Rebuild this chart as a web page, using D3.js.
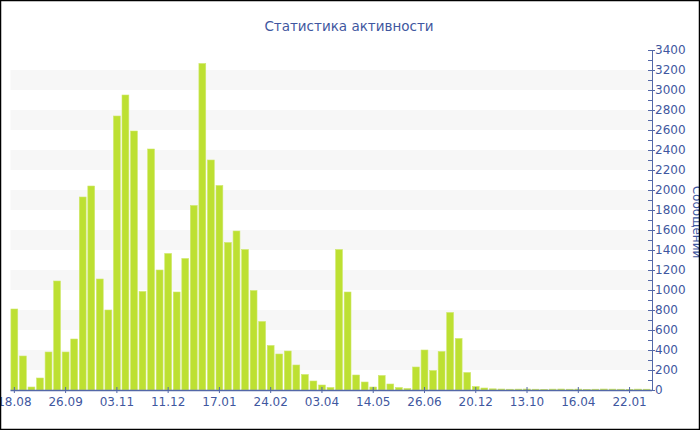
<!DOCTYPE html>
<html>
<head>
<meta charset="utf-8">
<script src="https://cdn.jsdelivr.net/npm/d3@7"></script>
<style>
  html, body { margin: 0; padding: 0; background: #fff; }
  svg { display: block; font-family: "DejaVu Sans", Verdana, sans-serif; }
</style>
</head>
<body>
<svg id="chart" width="700" height="430"></svg>
<script>
const title = "Статистика активности";
const yTitle = "Сообщений";
const tickLabels = ["18.08","26.09","03.11","11.12","17.01","24.02","03.04","14.05","26.06","20.12","13.10","16.04","22.01"];
const values = [
  810, 340, 30, 120, 380, 1090, 380, 510, 1930, 2040,
  1110, 800, 2740, 2950, 2590, 985, 2410, 1200, 1365, 980,
  1315, 1845, 3265, 2300, 2045, 1475, 1590, 1405, 995, 685,
  445, 360, 390, 250, 155, 90, 50, 25, 1405, 980,
  150, 80, 30, 145, 60, 25, 15, 230, 400, 195,
  385, 775, 515, 175, 35, 20, 12, 10, 8, 9,
  10, 8, 7, 9, 10, 8, 9, 7, 8, 10,
  9, 8, 7, 9, 8
];
const categories = values.map((_, i) => i);
const labelEvery = 6;
const yMax = 3400;
const yMajorStep = 200;

(function () {
const svg = d3.select("#chart");
const W = 700, H = 430;
const pLeft = 10.5, pRight = 652, pTop = 50, pBottom = 390;
const textColor = "#3f57a0";
const axisColor = "#5468a8";

const x = d3.scaleBand().domain(categories).range([pLeft, pRight - 1.5]).paddingInner(0.2).paddingOuter(0.05);
const y = d3.scaleLinear().domain([0, yMax]).range([pBottom, pTop]);

// stripes
const bands = d3.range(0, yMax, yMajorStep).filter((d, i) => i % 2 === 1);
svg.append("g").selectAll("rect").data(bands).join("rect")
  .attr("x", pLeft).attr("width", pRight - pLeft)
  .attr("y", d => y(d + yMajorStep)).attr("height", d => y(d) - y(d + yMajorStep))
  .attr("fill", "#f7f7f7");

// bars
svg.append("g").selectAll("rect").data(values).join("rect")
  .attr("x", (d, i) => x(i)).attr("width", x.bandwidth())
  .attr("y", d => y(d)).attr("height", d => Math.max(0, y(0) - y(d)))
  .attr("fill", "#bde032")
  .attr("stroke", "#cfe86c").attr("stroke-width", 0.6);

// x axis
const xAxis = d3.axisBottom(x)
  .tickValues(categories.filter(i => i % labelEvery === 0))
  .tickFormat(i => tickLabels[i / labelEvery])
  .tickSize(4).tickSizeOuter(0).tickPadding(3);
const gx = svg.append("g").attr("transform", `translate(0,${pBottom})`).call(xAxis);
gx.select(".domain").attr("stroke", axisColor).attr("stroke-width", 1.5).attr("d", `M${pLeft},0.5H${pRight}`);
gx.selectAll(".tick line").attr("stroke", axisColor).attr("y1", -3).attr("y2", 3);
gx.selectAll(".tick text").attr("fill", textColor).attr("font-size", 12).attr("font-family", "DejaVu Sans, Verdana, sans-serif");

// y axis (right)
const yMinor = d3.axisRight(y).tickValues(d3.range(100, yMax, 200)).tickSize(-4).tickFormat("");
const gyMinor = svg.append("g").attr("transform", `translate(${pRight},0)`).call(yMinor);
gyMinor.select(".domain").remove();
gyMinor.selectAll(".tick line").attr("stroke", axisColor);

const yAxis = d3.axisRight(y).tickValues(d3.range(0, yMax + 1, yMajorStep))
  .tickFormat(d3.format("d")).tickSize(3).tickSizeOuter(0).tickPadding(0);
const gy = svg.append("g").attr("transform", `translate(${pRight},0)`).call(yAxis);
gy.select(".domain").attr("stroke", axisColor).attr("stroke-width", 1);
gy.selectAll(".tick line").attr("stroke", axisColor).attr("x1", -4).attr("x2", 3);
gy.selectAll(".tick text").attr("fill", textColor).attr("font-size", 12).attr("font-family", "DejaVu Sans, Verdana, sans-serif");

// title
svg.append("text").attr("x", 349).attr("y", 31).attr("text-anchor", "middle")
  .attr("fill", textColor).attr("font-size", 13.5).text(title);

// y axis title
svg.append("text").attr("transform", `translate(693,${(pTop + pBottom) / 2 + 2}) rotate(90)`)
  .attr("text-anchor", "middle").attr("fill", textColor).attr("font-size", 12).text(yTitle);

// border
svg.append("rect").attr("x", 0.5).attr("y", 0.5).attr("width", W - 1).attr("height", H - 1)
  .attr("fill", "none").attr("stroke", "#000").attr("stroke-width", 1.5);
})();
</script>
</body>
</html>
